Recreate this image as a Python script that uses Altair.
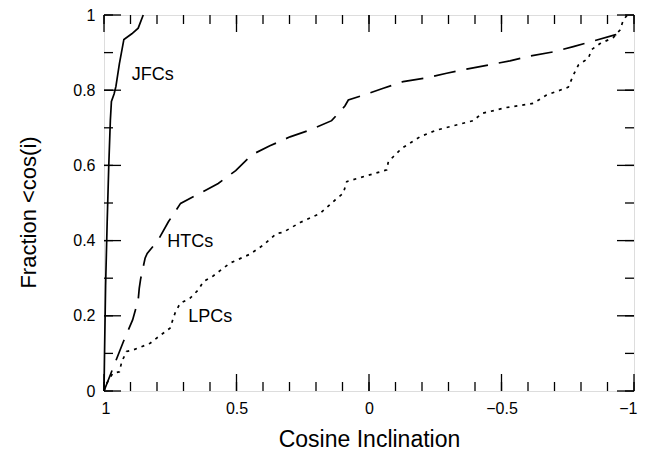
import altair as alt
import pandas as pd

# ---- data ----
jfc_x = [1.0, 0.998, 0.994, 0.988, 0.982, 0.976, 0.972, 0.962, 0.955, 0.942, 0.925, 0.895, 0.871, 0.852]
jfc_y = [0.0, 0.10, 0.28, 0.45, 0.60, 0.72, 0.77, 0.79, 0.81, 0.87, 0.935, 0.95, 0.965, 1.0]

htc_x = [1.0, 0.927, 0.892, 0.871, 0.867, 0.862, 0.845, 0.837, 0.795, 0.757, 0.711, 0.638, 0.569,
         0.503, 0.443, 0.374, 0.298, 0.223, 0.141, 0.091, 0.078, 0.021, -0.054, -0.129, -0.211,
         -0.293, -0.368, -0.450, -0.532, -0.608, -0.696, -0.771, -0.853, -0.928, -0.96]
htc_y = [0.0, 0.131, 0.189, 0.242, 0.273, 0.297, 0.353, 0.366, 0.402, 0.45, 0.499, 0.526, 0.552,
         0.586, 0.628, 0.652, 0.676, 0.694, 0.719, 0.758, 0.774, 0.787, 0.805, 0.823, 0.832,
         0.845, 0.856, 0.867, 0.878, 0.891, 0.902, 0.916, 0.932, 0.947, 0.953]

lpc_x = [1.0, 0.99, 0.967, 0.942, 0.933, 0.915, 0.89, 0.826, 0.795, 0.751, 0.732, 0.713, 0.675,
         0.644, 0.625, 0.588, 0.525, 0.449, 0.399, 0.349, 0.324, 0.26, 0.185, 0.128, 0.097, 0.084,
         -0.067, -0.073, -0.123, -0.192, -0.255, -0.394, -0.425, -0.519, -0.62, -0.67, -0.752,
         -0.771, -0.79, -0.828, -0.84, -0.872, -0.922, -0.947, -0.96, -0.975]
lpc_y = [0.0, 0.02, 0.047, 0.051, 0.078, 0.105, 0.109, 0.127, 0.144, 0.167, 0.207, 0.233, 0.247,
         0.269, 0.291, 0.306, 0.34, 0.364, 0.388, 0.419, 0.422, 0.448, 0.472, 0.508, 0.526, 0.557,
         0.588, 0.61, 0.645, 0.676, 0.694, 0.719, 0.738, 0.754, 0.765, 0.787, 0.808,
         0.84, 0.867, 0.885, 0.908, 0.924, 0.94, 0.96, 0.987, 1.0]

label_names = ["JFCs", "HTCs", "LPCs"]
label_x = [0.895, 0.761, 0.682]
label_y = [0.827, 0.384, 0.184]

x_major = [1, 0.5, 0, -0.5, -1]
y_major = [0, 0.2, 0.4, 0.6, 0.8, 1]
x_minor = [round(-1 + 0.1 * i, 1) for i in range(21)]
y_minor = [round(0.1 * i, 1) for i in range(11)]

W, H = 530, 376
FONT = "Liberation Sans"
MAJ, MIN = 17, 9

xscale = alt.Scale(domain=[-1, 1], reverse=True, nice=False, zero=False)
yscale = alt.Scale(domain=[0, 1], nice=False, zero=False)

XAX = alt.Axis(values=x_major, format="~g", grid=False, domain=False, ticks=False,
               tickSize=0, labelPadding=9, labelFontSize=16, labelFont=FONT,
               labelColor="black", titleFont=FONT, titleFontSize=23,
               titleFontWeight="normal", titleColor="black",
               titleBaseline="alphabetic", titleY=55,
               labelFlush=True, labelFlushOffset=3)
YAX = alt.Axis(values=y_major, format="~g", grid=False, domain=False, ticks=False,
               tickSize=0, labelPadding=9, labelFontSize=16, labelFont=FONT,
               labelColor="black", titleFont=FONT, titleFontSize=22,
               titleFontWeight="normal", titleColor="black",
               titleBaseline="middle", titleX=-76, titleY=H / 2 + 9, labelFlush=False)


def X():
    return alt.X("x:Q", scale=xscale, title="Cosine Inclination", axis=XAX)


def Y():
    return alt.Y("y:Q", scale=yscale, title="Fraction <cos(i)", axis=YAX)


def curve(xs, ys, dash):
    df = pd.DataFrame({"x": xs, "y": ys, "o": list(range(len(xs)))})
    kw = {"strokeDash": dash} if dash else {}
    return alt.Chart(df).mark_line(color="black", strokeWidth=1.7, **kw).encode(
        x=X(), y=Y(), order="o:Q",
    )


def xticks(vals, length, bottom):
    df = pd.DataFrame({"x": vals})
    return alt.Chart(df).mark_rule(color="black", strokeWidth=1.3).encode(
        x=X(),
        y=alt.value(H if bottom else 0),
        y2=alt.value(H - length if bottom else length),
    )


def yticks(vals, length, left):
    df = pd.DataFrame({"y": vals})
    return alt.Chart(df).mark_rule(color="black", strokeWidth=1.3).encode(
        y=Y(),
        x=alt.value(0 if left else W),
        x2=alt.value(length if left else W - length),
    )


ticks = [
    xticks(x_minor, MIN, True), xticks(x_major, MAJ, True),
    xticks(x_minor, MIN, False), xticks(x_major, MAJ, False),
    yticks(y_minor, MIN, True), yticks(y_major, MAJ, True),
    yticks(y_minor, MIN, False), yticks(y_major, MAJ, False),
]

labels = alt.Chart(pd.DataFrame({"x": label_x, "y": label_y, "t": label_names})).mark_text(
    font=FONT, fontSize=18, align="left", baseline="alphabetic", color="black"
).encode(x=X(), y=Y(), text="t:N")

chart = alt.layer(
    curve(jfc_x, jfc_y, None),
    curve(htc_x, htc_y, [22, 11]),
    curve(lpc_x, lpc_y, [3, 5]),
    *ticks,
    labels,
).properties(
    width=W, height=H,
    autosize=alt.AutoSizeParams(type="none"),
    padding={"left": 96, "top": 7, "right": 5, "bottom": 60},
).configure_view(stroke="black", strokeWidth=1.5).configure(background="white")

chart.save("out.html", embed_options={"renderer": "svg", "actions": False})
